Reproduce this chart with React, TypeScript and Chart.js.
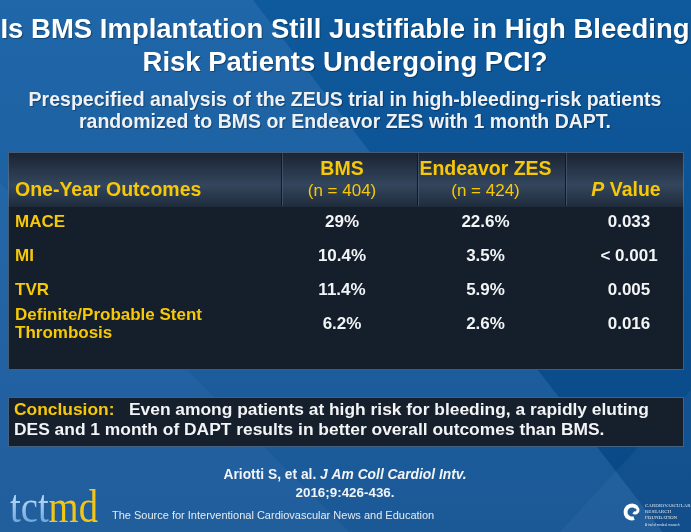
import React, { useEffect, useRef } from 'react';
import { Chart, registerables } from 'chart.js';

Chart.register(...registerables);

// ---------- data ----------
const titleLines = ['Is BMS Implantation Still Justifiable in High Bleeding', 'Risk Patients Undergoing PCI?'];
const subtitleLines = [
  'Prespecified analysis of the ZEUS trial in high-bleeding-risk patients',
  'randomized to BMS or Endeavor ZES with 1 month DAPT.',
];
const outcomeHeader = 'One-Year Outcomes';
const outcomes = [['MACE'], ['MI'], ['TVR'], ['Definite/Probable Stent', 'Thrombosis']];
const columnNames = ['BMS', 'Endeavor ZES', 'Value'];
const columnCounts = ['(n = 404)', '(n = 424)', ''];
const bmsRates = [29, 10.4, 11.4, 6.2];
const zesRates = [22.6, 3.5, 5.9, 2.6];
const pValues = ['0.033', '< 0.001', '0.005', '0.016'];
const conclusionLabel = 'Conclusion:';
const conclusionLines = [
  'Even among patients at high risk for bleeding, a rapidly eluting',
  'DES and 1 month of DAPT results in better overall outcomes than BMS.',
];
const citationAuthors = 'Ariotti S, et al. ';
const citationJournal = 'J Am Coll Cardiol Intv.';
const citationYear = '2016;9:426-436.';
const footerText = 'The Source for Interventional Cardiovascular News and Education';
const crfLines = ['CARDIOVASCULAR', 'RESEARCH', 'FOUNDATION'];

// ---------- layout / style ----------
const W = 691;
const H = 532;
const SANS = '"Liberation Sans", Arial, sans-serif';
const SERIF = '"Liberation Serif", "Times New Roman", serif';
const YELLOW = '#f7c808';
const WHITE = '#f2f4f6';
const COL_UNIT = 143.5;
const AREA_LEFT = 8;
const AREA_RIGHT = 684;
const COL0_X = 342;
const X_MIN = -(COL0_X - AREA_LEFT) / COL_UNIT;
const X_MAX = X_MIN + (AREA_RIGHT - AREA_LEFT) / COL_UNIT;
const ROWS_TOP = 205.5;
const ROWS_BOTTOM = 341.5;

type Run = { text: string; font: string; color: string };

function drawRuns(ctx: CanvasRenderingContext2D, runs: Run[], x: number, y: number, align: 'left' | 'center') {
  let total = 0;
  const widths = runs.map((r) => {
    ctx.font = r.font;
    const w = ctx.measureText(r.text).width;
    total += w;
    return w;
  });
  let cx = align === 'center' ? x - total / 2 : x;
  ctx.textAlign = 'left';
  ctx.textBaseline = 'middle';
  runs.forEach((r, i) => {
    ctx.font = r.font;
    ctx.fillStyle = r.color;
    ctx.fillText(r.text, cx, y);
    cx += widths[i];
  });
}

function drawBackground(ctx: CanvasRenderingContext2D) {
  const base = ctx.createLinearGradient(0, 0, 0, H);
  base.addColorStop(0, '#0e5a9d');
  base.addColorStop(1, '#0a4785');
  ctx.fillStyle = base;
  ctx.fillRect(0, 0, W, H);

  ctx.fillStyle = 'rgba(90,150,215,0.22)';
  ctx.beginPath();
  ctx.moveTo(0, 0);
  ctx.lineTo(253, 0);
  ctx.lineTo(253 + 0.77 * H, H);
  ctx.lineTo(0, H);
  ctx.closePath();
  ctx.fill();

  ctx.fillStyle = 'rgba(90,150,215,0.10)';
  ctx.beginPath();
  ctx.moveTo(0, 183);
  ctx.lineTo(H - 183, H);
  ctx.lineTo(0, H);
  ctx.closePath();
  ctx.fill();

  ctx.fillStyle = 'rgba(120,170,220,0.08)';
  ctx.beginPath();
  ctx.moveTo(560, H);
  ctx.lineTo(W, 390);
  ctx.lineTo(W, H);
  ctx.closePath();
  ctx.fill();
}

function drawTableFrame(ctx: CanvasRenderingContext2D) {
  const x0 = 8, x1 = 684, top = 152, headBottom = 207, bottom = 370;
  ctx.fillStyle = '#151f2c';
  ctx.fillRect(x0, top, x1 - x0, bottom - top);
  const hg = ctx.createLinearGradient(0, top, 0, headBottom);
  hg.addColorStop(0, '#1a2331');
  hg.addColorStop(0.6, '#33465d');
  hg.addColorStop(1, '#1f2b3b');
  ctx.fillStyle = hg;
  ctx.fillRect(x0, top, x1 - x0, headBottom - top);
  ctx.lineWidth = 1;
  [281, 417, 565].forEach((dx) => {
    ctx.strokeStyle = '#121923';
    ctx.beginPath();
    ctx.moveTo(dx + 0.5, top + 1);
    ctx.lineTo(dx + 0.5, headBottom - 1);
    ctx.stroke();
    ctx.strokeStyle = 'rgba(90,110,135,0.45)';
    ctx.beginPath();
    ctx.moveTo(dx + 1.5, top + 1);
    ctx.lineTo(dx + 1.5, headBottom - 1);
    ctx.stroke();
  });
  ctx.strokeStyle = 'rgba(110,140,175,0.55)';
  ctx.strokeRect(x0 + 0.5, top + 0.5, x1 - x0 - 1, bottom - top - 1);
}

function drawConclusion(ctx: CanvasRenderingContext2D) {
  const x0 = 8, x1 = 684, top = 397, bottom = 447;
  ctx.fillStyle = '#161f2c';
  ctx.fillRect(x0, top, x1 - x0, bottom - top);
  ctx.strokeStyle = 'rgba(90,125,165,0.7)';
  ctx.lineWidth = 1;
  ctx.strokeRect(x0 + 0.5, top + 0.5, x1 - x0 - 1, bottom - top - 1);
  const f = `bold 17.4px ${SANS}`;
  drawRuns(ctx, [
    { text: conclusionLabel + '   ', font: f, color: YELLOW },
    { text: conclusionLines[0], font: f, color: WHITE },
  ], 14, 410, 'left');
  drawRuns(ctx, [{ text: conclusionLines[1], font: f, color: WHITE }], 14, 430, 'left');
}

function drawHeaderTexts(ctx: CanvasRenderingContext2D) {
  ctx.save();
  ctx.shadowColor = 'rgba(0,0,0,0.35)';
  ctx.shadowOffsetX = 1;
  ctx.shadowOffsetY = 1;
  ctx.shadowBlur = 1;
  const tf = `bold 27.5px ${SANS}`;
  drawRuns(ctx, [{ text: titleLines[0], font: tf, color: '#ffffff' }], 345, 30, 'center');
  drawRuns(ctx, [{ text: titleLines[1], font: tf, color: '#ffffff' }], 345, 63, 'center');
  const sf = `bold 19.5px ${SANS}`;
  drawRuns(ctx, [{ text: subtitleLines[0], font: sf, color: '#eef2f6' }], 345, 101, 'center');
  drawRuns(ctx, [{ text: subtitleLines[1], font: sf, color: '#eef2f6' }], 345, 123, 'center');
  ctx.restore();
}

function drawFooter(ctx: CanvasRenderingContext2D) {
  drawRuns(ctx, [
    { text: citationAuthors, font: `bold 13.8px ${SANS}`, color: WHITE },
    { text: citationJournal, font: `italic bold 13.8px ${SANS}`, color: WHITE },
  ], 345, 475, 'center');
  drawRuns(ctx, [{ text: citationYear, font: `bold 13.4px ${SANS}`, color: WHITE }], 345, 493, 'center');

  // tctmd logo
  ctx.save();
  ctx.translate(10, 522);
  ctx.scale(0.84, 1);
  ctx.textAlign = 'left';
  ctx.textBaseline = 'alphabetic';
  ctx.font = `46px ${SERIF}`;
  const tg = ctx.createLinearGradient(0, -32, 0, 0);
  tg.addColorStop(0, '#cfe6fb');
  tg.addColorStop(1, '#6fa8de');
  ctx.fillStyle = tg;
  ctx.fillText('tct', 0, 0);
  const tw = ctx.measureText('tct').width;
  ctx.fillStyle = '#f3c516';
  ctx.fillText('md', tw, 0);
  ctx.restore();

  ctx.font = `11px ${SANS}`;
  ctx.fillStyle = '#e4ebf2';
  ctx.textAlign = 'left';
  ctx.textBaseline = 'alphabetic';
  ctx.fillText(footerText, 112, 519);

  // CRF logo
  ctx.save();
  ctx.strokeStyle = '#ffffff';
  ctx.lineWidth = 4;
  ctx.beginPath();
  ctx.arc(632, 512, 6.5, 0.4 * Math.PI, 1.75 * Math.PI);
  ctx.stroke();
  ctx.lineWidth = 3;
  ctx.beginPath();
  ctx.arc(635, 510, 3, 1.6 * Math.PI, 0.7 * Math.PI);
  ctx.stroke();
  ctx.fillStyle = '#dfe7ef';
  ctx.font = `5px ${SERIF}`;
  crfLines.forEach((t, i) => ctx.fillText(t, 645, 507 + i * 6));
  ctx.font = `3px ${SANS}`;
  ctx.fillText('A trial of medical research', 645, 526);
  ctx.restore();
}

const slidePlugin = {
  id: 'slide',
  beforeDraw(chart: any) {
    const ctx: CanvasRenderingContext2D = chart.ctx;
    ctx.save();
    drawBackground(ctx);
    drawHeaderTexts(ctx);
    drawTableFrame(ctx);
    drawConclusion(ctx);
    drawFooter(ctx);
    ctx.restore();
  },
  afterDraw(chart: any) {
    const ctx: CanvasRenderingContext2D = chart.ctx;
    const xs = chart.scales.x;
    const ys = chart.scales.y;
    ctx.save();
    const hb = `bold 19.5px ${SANS}`;
    const hn = `17px ${SANS}`;
    columnNames.forEach((name, c) => {
      const x = xs.getPixelForValue(c);
      if (columnCounts[c]) {
        drawRuns(ctx, [{ text: name, font: hb, color: YELLOW }], x, 170, 'center');
        drawRuns(ctx, [{ text: columnCounts[c], font: hn, color: YELLOW }], x, 191, 'center');
      } else {
        drawRuns(ctx, [
          { text: 'P ', font: `italic bold 19.5px ${SANS}`, color: YELLOW },
          { text: name, font: hb, color: YELLOW },
        ], x - 3, 191, 'center');
      }
    });
    drawRuns(ctx, [{ text: outcomeHeader, font: hb, color: YELLOW }], xs.left + 7, 191, 'left');

    const lf = `bold 17px ${SANS}`;
    outcomes.forEach((lines, r) => {
      const y = ys.getPixelForValue(r);
      const n = lines.length;
      lines.forEach((t, k) => {
        drawRuns(ctx, [{ text: t, font: lf, color: YELLOW }], xs.left + 7, y + (k - (n - 1) / 2) * 18, 'left');
      });
      drawRuns(ctx, [{ text: `${bmsRates[r]}%`, font: lf, color: WHITE }], xs.getPixelForValue(0), y, 'center');
      drawRuns(ctx, [{ text: `${zesRates[r]}%`, font: lf, color: WHITE }], xs.getPixelForValue(1), y, 'center');
      drawRuns(ctx, [{ text: pValues[r], font: lf, color: WHITE }], xs.getPixelForValue(2), y, 'center');
    });
    ctx.restore();
  },
};

export default function App() {
  const canvasRef = useRef<HTMLCanvasElement | null>(null);

  useEffect(() => {
    document.body.style.margin = '0';
    const canvas = canvasRef.current;
    if (!canvas) return;
    const chart = new Chart(canvas, {
      type: 'bar',
      data: {
        labels: outcomes.map((l) => l.join(' ')),
        datasets: [],
      },
      options: {
        indexAxis: 'y',
        responsive: false,
        animation: false,
        devicePixelRatio: 1,
        layout: { padding: { left: AREA_LEFT, right: W - AREA_RIGHT, top: ROWS_TOP, bottom: H - ROWS_BOTTOM } },
        plugins: {
          legend: { display: false },
          tooltip: { enabled: false },
          title: { display: false },
        },
        scales: {
          x: { type: 'linear', display: false, min: X_MIN, max: X_MAX },
          y: { type: 'category', display: false, offset: true },
        },
      },
      plugins: [slidePlugin],
    } as any);
    return () => chart.destroy();
  }, []);

  return (
    <div style={{ position: 'fixed', left: 0, top: 0, width: W, height: H }}>
      <canvas ref={canvasRef} width={W} height={H} style={{ display: 'block', width: W, height: H }} />
    </div>
  );
}
